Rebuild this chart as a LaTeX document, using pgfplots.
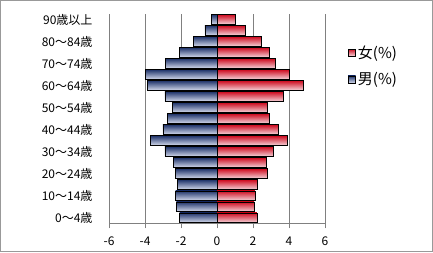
\documentclass[border=0pt]{standalone}
\usepackage{fontspec}
\setmainfont{Noto Sans CJK JP}
\usepackage{pgfplots}
\pgfplotsset{compat=1.18}
\definecolor{mtop}{RGB}{34,54,108}
\definecolor{mbot}{RGB}{214,220,238}
\definecolor{ftop}{RGB}{206,14,34}
\definecolor{fbot}{RGB}{246,214,220}
\begin{document}
\begin{tikzpicture}[x=1pt,y=1pt]
\useasboundingbox (0,0) rectangle (433,252);
\draw[gray!80, line width=1pt] (0.5,0.5) rectangle (432.5,251.5);
\begin{axis}[
  at={(109pt,28.7pt)}, anchor=south west,
  scale only axis, width=216pt, height=209.3pt,
  xmin=-6, xmax=6, ymin=-0.5, ymax=18.5,
  xtick={-6,-4,-2,0,2,4,6},
  xticklabels={-6,-4,-2,0,2,4,6},
  ytick={0,2,4,6,8,10,12,14,16,18},
  yticklabels={0～4歳,10～14歳,20～24歳,30～34歳,40～44歳,50～54歳,60～64歳,70～74歳,80～84歳,90歳以上},
  axis x line*=bottom, axis y line*=left,
  axis line style={gray, -},
  xmajorgrids, grid style={gray, line width=0.6pt},
  tick align=outside, major tick length=5pt,
  xtick style={draw=gray},
  ytick style={draw=none},
  extra x ticks={0}, extra x tick labels={},
  extra x tick style={grid style={black, line width=0.8pt}, major tick length=0pt},
  tick label style={font=\fontsize{12}{14}\selectfont},
  yticklabel style={xshift=-8pt},
  xticklabel style={yshift=-5pt},
  xbar, bar width=0.88, bar shift=0pt,
  fbar/.style={draw=black, line width=0.8pt, top color=ftop, bottom color=fbot},
  mbar/.style={draw=black, line width=0.8pt, top color=mtop, bottom color=mbot},
  legend style={draw=none, fill=none, at={(1.105,0.86)}, anchor=north west,
    font=\fontsize{15}{17}\selectfont, row sep=9pt, inner sep=0pt,
    nodes={inner sep=2pt},
    legend cell align=left},
  legend image code/.code={\draw[#1,draw=black,line width=0.6pt] (0pt,-3.5pt) rectangle (7.5pt,3.5pt);},
]
% female (%), one bar per age group
\addplot[fbar] coordinates {(2.22,0)};
\addlegendentry{女(\%)}
\addplot[fbar,forget plot] coordinates {(2.06,1)};
\addplot[fbar,forget plot] coordinates {(2.11,2)};
\addplot[fbar,forget plot] coordinates {(2.26,3)};
\addplot[fbar,forget plot] coordinates {(2.78,4)};
\addplot[fbar,forget plot] coordinates {(2.76,5)};
\addplot[fbar,forget plot] coordinates {(3.15,6)};
\addplot[fbar,forget plot] coordinates {(3.89,7)};
\addplot[fbar,forget plot] coordinates {(3.39,8)};
\addplot[fbar,forget plot] coordinates {(2.93,9)};
\addplot[fbar,forget plot] coordinates {(2.78,10)};
\addplot[fbar,forget plot] coordinates {(3.67,11)};
\addplot[fbar,forget plot] coordinates {(4.78,12)};
\addplot[fbar,forget plot] coordinates {(4.00,13)};
\addplot[fbar,forget plot] coordinates {(3.26,14)};
\addplot[fbar,forget plot] coordinates {(2.89,15)};
\addplot[fbar,forget plot] coordinates {(2.48,16)};
\addplot[fbar,forget plot] coordinates {(1.59,17)};
\addplot[fbar,forget plot] coordinates {(1.04,18)};
% male (%), one bar per age group
\addplot[mbar] coordinates {(-2.08,0)};
\addlegendentry{男(\%)}
\addplot[mbar,forget plot] coordinates {(-2.26,1)};
\addplot[mbar,forget plot] coordinates {(-2.30,2)};
\addplot[mbar,forget plot] coordinates {(-2.19,3)};
\addplot[mbar,forget plot] coordinates {(-2.30,4)};
\addplot[mbar,forget plot] coordinates {(-2.41,5)};
\addplot[mbar,forget plot] coordinates {(-2.89,6)};
\addplot[mbar,forget plot] coordinates {(-3.69,7)};
\addplot[mbar,forget plot] coordinates {(-3.00,8)};
\addplot[mbar,forget plot] coordinates {(-2.74,9)};
\addplot[mbar,forget plot] coordinates {(-2.47,10)};
\addplot[mbar,forget plot] coordinates {(-2.89,11)};
\addplot[mbar,forget plot] coordinates {(-3.86,12)};
\addplot[mbar,forget plot] coordinates {(-3.97,13)};
\addplot[mbar,forget plot] coordinates {(-2.86,14)};
\addplot[mbar,forget plot] coordinates {(-2.08,15)};
\addplot[mbar,forget plot] coordinates {(-1.30,16)};
\addplot[mbar,forget plot] coordinates {(-0.67,17)};
\addplot[mbar,forget plot] coordinates {(-0.33,18)};
\end{axis}
\end{tikzpicture}
\end{document}
